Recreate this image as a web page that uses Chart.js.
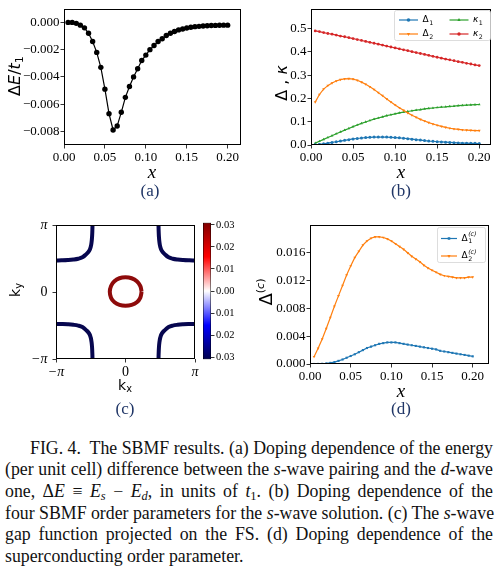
<!DOCTYPE html>
<html>
<head>
<meta charset="utf-8">
<script src="https://cdn.jsdelivr.net/npm/chart.js@4.4.0/dist/chart.umd.min.js"></script>
<style>
  html, body { margin: 0; padding: 0; background: #fff; }
  #page { position: relative; width: 499px; height: 572px; overflow: hidden; }
  canvas { position: absolute; }
  .lbl { position: absolute; white-space: nowrap; color: #000; transform: translate(-50%, -50%); line-height: 1; }
  .rot { transform: translate(-50%, -50%) rotate(-90deg); }
  .serif { font-family: 'Liberation Serif', 'Times New Roman', serif; }
  .sans { font-family: 'DejaVu Sans', sans-serif; }
  .panel { font-family: 'Liberation Serif', 'Times New Roman', serif; font-size: 17px; color: #1f3566; }
  .lbl sub, .caption sub { font-size: 0.7em; vertical-align: -0.25em; line-height: 0; }
  .lbl sup { font-size: 0.62em; vertical-align: 0.7em; line-height: 0; }
  .caption { position: absolute; left: 5px; top: 437.5px; width: 488px;
             font-family: 'Liberation Serif', 'Times New Roman', serif; font-size: 17.8px; line-height: 21.7px; color: #111; }
  .caption div { height: 21.7px; white-space: nowrap; text-align: justify; text-align-last: justify; }
  .caption div.first { padding-left: 25px; }
  .caption div.last { text-align-last: left; }
</style>
</head>
<body>
<div id="page">
  <canvas id="chartA" width="250" height="165" style="left:0px;top:0px;"></canvas>
  <canvas id="chartB" width="249" height="165" style="left:250px;top:0px;"></canvas>
  <canvas id="chartC" width="200" height="170" style="left:0px;top:212px;"></canvas>
  <canvas id="chartCB" width="50" height="160" style="left:195px;top:212px;"></canvas>
  <canvas id="chartD" width="249" height="170" style="left:250px;top:215px;"></canvas>

  <div class="lbl rot sans" style="left:15px;top:76px;font-size:16px;">Δ<i>E</i>/<i>t</i><sub>1</sub></div>
  <div class="lbl serif" style="left:152px;top:171px;font-size:19px;"><i>x</i></div>
  <div class="lbl panel" style="left:150px;top:190px;">(a)</div>

  <div class="lbl rot sans" style="left:282px;top:83px;font-size:16px;">Δ , <i>κ</i></div>
  <div class="lbl serif" style="left:401px;top:171px;font-size:19px;"><i>x</i></div>
  <div class="lbl panel" style="left:401px;top:190px;">(b)</div>

  <div class="lbl rot sans" style="left:15px;top:290px;font-size:14px;">k<sub>y</sub></div>
  <div class="lbl sans" style="left:125px;top:385px;font-size:14px;">k<sub>x</sub></div>
  <div class="lbl panel" style="left:125px;top:408px;">(c)</div>

  <div class="lbl rot sans" style="left:266px;top:292px;font-size:18px;">Δ<sup>(<i>c</i>)</sup></div>
  <div class="lbl serif" style="left:401px;top:390px;font-size:19px;"><i>x</i></div>
  <div class="lbl panel" style="left:401px;top:408px;">(d)</div>

  <div class="caption">
    <div class="first">FIG. 4.&nbsp; The SBMF results. (a) Doping dependence of the energy</div>
    <div>(per unit cell) difference between the <i>s</i>-wave pairing and the <i>d</i>-wave</div>
    <div>one, Δ<i>E</i> ≡ <i>E<sub>s</sub></i> − <i>E<sub>d</sub></i>, in units of <i>t</i><sub>1</sub>. (b) Doping dependence of the</div>
    <div>four SBMF order parameters for the <i>s</i>-wave solution. (c) The <i>s</i>-wave</div>
    <div>gap function projected on the FS. (d) Doping dependence of the</div>
    <div class="last">superconducting order parameter.</div>
  </div>
</div>

<script>
// doping grid shared by panels (a), (b), (d)
const xDoping = [0.005, 0.010, 0.015, 0.020, 0.025, 0.030, 0.035, 0.040, 0.045, 0.050,
                 0.055, 0.060, 0.065, 0.070, 0.075, 0.080, 0.085, 0.090, 0.095, 0.100,
                 0.105, 0.110, 0.115, 0.120, 0.125, 0.130, 0.135, 0.140, 0.145, 0.150,
                 0.155, 0.160, 0.165, 0.170, 0.175, 0.180, 0.185, 0.190, 0.195, 0.200];

// (a) energy difference
const deltaE = [0.0000, 0.0000, -0.00007, -0.0002, -0.0004, -0.0008, -0.0014, -0.0022, -0.0033, -0.0049,
                -0.0067, -0.0079, -0.0076, -0.0066, -0.0055, -0.0047, -0.0040, -0.0034, -0.0028, -0.0024,
                -0.0020, -0.0017, -0.0014, -0.0012, -0.00096, -0.0008, -0.00067, -0.00055, -0.00048, -0.00041,
                -0.00036, -0.00031, -0.00029, -0.00026, -0.00024, -0.00023, -0.00022, -0.00021, -0.0002, -0.0002];

// (b) order parameters
const delta1 = [0.001, 0.003, 0.005, 0.008, 0.011, 0.014, 0.017, 0.020, 0.023, 0.026,
                0.028, 0.030, 0.032, 0.033, 0.034, 0.034, 0.034, 0.034, 0.033, 0.032,
                0.031, 0.029, 0.027, 0.025, 0.023, 0.021, 0.019, 0.017, 0.016, 0.014,
                0.013, 0.012, 0.011, 0.010, 0.009, 0.008, 0.008, 0.007, 0.007, 0.006];
const delta2 = [0.184, 0.217, 0.240, 0.255, 0.266, 0.275, 0.281, 0.284, 0.285, 0.283,
                0.278, 0.270, 0.261, 0.250, 0.238, 0.225, 0.212, 0.198, 0.185, 0.172,
                0.160, 0.149, 0.138, 0.128, 0.119, 0.110, 0.103, 0.096, 0.090, 0.085,
                0.080, 0.076, 0.072, 0.069, 0.067, 0.065, 0.064, 0.063, 0.062, 0.062];
const kappa1 = [0.008, 0.016, 0.024, 0.032, 0.040, 0.048, 0.056, 0.064, 0.071, 0.079,
                0.086, 0.093, 0.099, 0.105, 0.111, 0.116, 0.121, 0.126, 0.130, 0.134,
                0.138, 0.141, 0.144, 0.147, 0.150, 0.152, 0.155, 0.157, 0.159, 0.161,
                0.163, 0.164, 0.166, 0.167, 0.169, 0.170, 0.171, 0.172, 0.173, 0.174];
const kappa2 = [0.490, 0.487, 0.483, 0.479, 0.476, 0.472, 0.468, 0.465, 0.461, 0.457,
                0.453, 0.449, 0.445, 0.441, 0.437, 0.433, 0.429, 0.425, 0.421, 0.417,
                0.413, 0.409, 0.405, 0.401, 0.397, 0.393, 0.389, 0.385, 0.381, 0.377,
                0.373, 0.369, 0.366, 0.362, 0.358, 0.355, 0.351, 0.348, 0.344, 0.341];

// (d) superconducting order parameters
const deltaC1 = [0.0, 0.00001, 0.00003, 0.00008, 0.00016, 0.00028, 0.00045, 0.00065, 0.0009, 0.00115,
                 0.0014, 0.0017, 0.0020, 0.0023, 0.0025, 0.0027, 0.0029, 0.0030, 0.0031, 0.0031,
                 0.0031, 0.0030, 0.0029, 0.0028, 0.0027, 0.0026, 0.0025, 0.0024, 0.0023, 0.0022,
                 0.0021, 0.0019, 0.0018, 0.0017, 0.0016, 0.0015, 0.0014, 0.0013, 0.0012, 0.0011];
const deltaC2 = [0.00105, 0.00225, 0.0036, 0.0051, 0.0067, 0.0083, 0.0098, 0.0113, 0.0128, 0.0141,
                 0.0153, 0.0162, 0.0171, 0.0177, 0.0181, 0.0183, 0.0183, 0.0182, 0.0180, 0.0177,
                 0.0173, 0.0169, 0.0165, 0.0160, 0.0155, 0.0151, 0.0147, 0.0142, 0.0138, 0.0135,
                 0.0132, 0.0129, 0.0127, 0.0126, 0.0125, 0.0124, 0.0124, 0.0124, 0.0125, 0.0125];

// (c) Fermi surface in units of pi: pocket around Gamma, and one corner arc (mirrored to the 4 corners)
const fsPocketX = [0.232, 0.212, 0.163, 0.088, 0.0, -0.088, -0.160, -0.208, -0.226, -0.208, -0.158, -0.086, 0.0, 0.088, 0.163, 0.212, 0.232];
const fsPocketY = [0.006, 0.094, 0.165, 0.209, 0.223, 0.209, 0.165, 0.094, 0.006, -0.084, -0.150, -0.190, -0.203, -0.190, -0.150, -0.084, 0.006];
const fsArcX = [0.475, 0.477, 0.481, 0.488, 0.50, 0.522, 0.567, 0.62, 0.68, 0.75, 0.83, 0.92, 1.0];
const fsArcY = [1.0, 0.92, 0.83, 0.75, 0.68, 0.62, 0.567, 0.522, 0.50, 0.488, 0.481, 0.477, 0.475];
const fsCorners = [[1, 1], [-1, 1], [-1, -1], [1, -1]];
const gapPocket = 0.028;
const gapArc = -0.03;

// tick values
const ticksA_x = [0, 0.05, 0.10, 0.15, 0.20];
const ticksA_y = [0, -0.002, -0.004, -0.006, -0.008];
const ticksB_y = [0, 0.1, 0.2, 0.3, 0.4, 0.5];
const ticksD_y = [0, 0.004, 0.008, 0.012, 0.016];
const ticksK = [-1, 0, 1];
const ticksCB = [-0.03, -0.02, -0.01, 0, 0.01, 0.02, 0.03];
const cbMin = -0.031, cbMax = 0.031;

// seismic colormap
const seismic = [[0, '#00004d'], [0.25, '#0000ff'], [0.5, '#ffffff'], [0.75, '#ff0000'], [1, '#800000']];

const tab = { blue: '#1f77b4', orange: '#ff7f0e', green: '#2ca02c', red: '#d62728' };

const serifFamily = "'Liberation Serif', 'Times New Roman', serif";
Chart.defaults.font.family = serifFamily;
Chart.defaults.color = '#000';

function pts(xs, ys) {
  return xs.map((x, i) => ({ x: x, y: ys[i] }));
}

function axis(pos, min, max, tickVals, fmt, size, font, pad) {
  return {
    type: 'linear', position: pos, min: min, max: max,
    afterBuildTicks: s => { s.ticks = tickVals.map(v => ({ value: v })); },
    afterFit: s => { if (pos === 'bottom') s.height = size; else s.width = size; },
    border: { display: false },
    grid: { drawOnChartArea: false, drawTicks: true, tickLength: 3.5, tickWidth: 0.8, tickColor: '#000' },
    ticks: { color: '#000', font: font, padding: pad, autoSkip: false, maxRotation: 0, callback: fmt }
  };
}

const framePlugin = {
  id: 'frame',
  afterDraw(chart) {
    const { ctx, chartArea: a } = chart;
    ctx.save();
    ctx.strokeStyle = '#000';
    ctx.lineWidth = 1;
    ctx.strokeRect(Math.round(a.left) + 0.5, Math.round(a.top) + 0.5,
                   Math.round(a.right - a.left) - 1, Math.round(a.bottom - a.top) - 1);
    ctx.restore();
  }
};

function drawMath(ctx, lab, x, y, size) {
  ctx.textBaseline = 'middle';
  ctx.textAlign = 'left';
  ctx.fillStyle = '#000';
  ctx.font = (lab.italic ? 'italic ' : '') + size + "px 'DejaVu Sans'";
  ctx.fillText(lab.base, x, y);
  const w = ctx.measureText(lab.base).width + 0.5;
  const small = size * 0.7;
  if (lab.sub) {
    ctx.font = small + "px 'DejaVu Sans'";
    ctx.fillText(lab.sub, x + w, y + size * 0.32);
  }
  if (lab.sup) {
    ctx.font = 'italic ' + small + "px 'DejaVu Sans'";
    ctx.fillText(lab.sup, x + w, y - size * 0.42);
  }
}

const boxLegend = {
  id: 'boxLegend',
  afterDraw(chart, args, o) {
    const { ctx, chartArea: a } = chart;
    const x0 = Math.round(a.right - o.right - o.width) + 0.5;
    const y0 = Math.round(a.top + o.top) + 0.5;
    ctx.save();
    ctx.beginPath();
    ctx.roundRect(x0, y0, o.width, o.height, 2);
    ctx.fillStyle = 'rgba(255,255,255,0.85)';
    ctx.fill();
    ctx.strokeStyle = '#d4d4d4';
    ctx.lineWidth = 0.8;
    ctx.stroke();
    o.items.forEach(it => {
      const ds = chart.data.datasets[it.ds];
      const lx = x0 + o.padX + it.col * o.colW;
      const ly = y0 + o.padY + it.row * o.rowH;
      ctx.strokeStyle = ds.borderColor;
      ctx.lineWidth = ds.borderWidth;
      ctx.beginPath();
      ctx.moveTo(lx, ly);
      ctx.lineTo(lx + o.lineLen, ly);
      ctx.stroke();
      ctx.fillStyle = ds.backgroundColor;
      Chart.helpers.drawPoint(ctx, { pointStyle: ds.pointStyle, rotation: ds.pointRotation || 0,
                                     radius: ds.pointRadius + 0.3, borderWidth: 0 }, lx + o.lineLen / 2, ly);
      drawMath(ctx, it.label, lx + o.lineLen + o.gap, ly, o.fontSize);
    });
    ctx.restore();
  }
};

function series(label, ys, color, style, radius, rot) {
  return {
    label: label, data: pts(xDoping, ys), showLine: true,
    borderColor: color, backgroundColor: color, borderWidth: 1.2,
    pointStyle: style, pointRadius: radius, pointRotation: rot || 0,
    pointBorderWidth: 0, pointHoverRadius: radius
  };
}

const common = {
  responsive: false, animation: false, events: [],
  plugins: { legend: { display: false }, tooltip: { enabled: false } }
};

const tickFont = { family: serifFamily, size: 13 };

// (a)
new Chart(document.getElementById('chartA'), {
  type: 'scatter',
  data: { datasets: [series('ΔE', deltaE, '#000', 'circle', 2.7)] },
  options: Object.assign({}, common, {
    layout: { padding: { top: 6, right: 9, left: 0, bottom: 0 } },
    scales: {
      x: axis('bottom', 0, 0.2163, ticksA_x, v => v.toFixed(2), 20, tickFont, 1),
      y: axis('left', -0.009, 0.001, ticksA_y, v => (v < 0 ? '−' : '') + Math.abs(v).toFixed(3), 64, tickFont, 1)
    }
  }),
  plugins: [framePlugin]
});

// (b)
new Chart(document.getElementById('chartB'), {
  type: 'scatter',
  data: {
    datasets: [
      series('Δ1', delta1, tab.blue, 'circle', 1.5),
      series('Δ2', delta2, tab.orange, 'triangle', 1.6, 180),
      series('κ1', kappa1, tab.green, 'triangle', 1.6),
      series('κ2', kappa2, tab.red, 'circle', 1.4)
    ]
  },
  options: Object.assign({}, common, {
    layout: { padding: { top: 6, right: 8, left: 0, bottom: 0 } },
    scales: {
      x: axis('bottom', 0, 0.214, ticksA_x, v => v.toFixed(2), 20, tickFont, 1),
      y: axis('left', 0, 0.585, ticksB_y, v => v.toFixed(1), 61, tickFont, 1)
    },
    plugins: Object.assign({}, common.plugins, {
      boxLegend: {
        right: 1.5, top: 1.5, width: 96, height: 30, padX: 4.5, padY: 9.5, colW: 50.5, rowH: 14,
        lineLen: 19, gap: 4.5, fontSize: 9,
        items: [
          { ds: 0, col: 0, row: 0, label: { base: 'Δ', sub: '1' } },
          { ds: 1, col: 0, row: 1, label: { base: 'Δ', sub: '2' } },
          { ds: 2, col: 1, row: 0, label: { base: 'κ', sub: '1', italic: true } },
          { ds: 3, col: 1, row: 1, label: { base: 'κ', sub: '2', italic: true } }
        ]
      }
    })
  }),
  plugins: [framePlugin, boxLegend]
});

// (c) Fermi surface coloured by the gap
function gapColor(v) {
  return v > 0 ? '#8e0b0b' : '#07074f';
}
const fsSets = [{
  data: pts(fsPocketX, fsPocketY), showLine: true, tension: 0.4, borderWidth: 4,
  borderColor: gapColor(gapPocket), pointRadius: 0, clip: 0
}];
fsCorners.forEach(s => {
  fsSets.push({
    data: pts(fsArcX.map(v => v * s[0]), fsArcY.map(v => v * s[1])), showLine: true, tension: 0.4,
    borderWidth: 4, borderColor: gapColor(gapArc), pointRadius: 0, clip: 0
  });
});
const piLabel = v => (v === 0 ? '0' : (v < 0 ? '−π' : 'π'));
const piFont = c => ({ family: serifFamily, size: 14,
                       style: c.tick && c.tick.value !== 0 ? 'italic' : 'normal' });
new Chart(document.getElementById('chartC'), {
  type: 'scatter',
  data: { datasets: fsSets },
  options: Object.assign({}, common, {
    layout: { padding: { top: 10, right: 5, left: 0, bottom: 0 } },
    scales: {
      x: axis('bottom', -1, 1, ticksK, piLabel, 23, piFont, 1),
      y: axis('left', -1, 1, ticksK, piLabel, 56, piFont, 5)
    }
  }),
  plugins: [framePlugin]
});

// colour bar
new Chart(document.getElementById('chartCB'), {
  type: 'bar',
  data: {
    labels: [''],
    datasets: [{
      data: [[cbMin, cbMax]],
      backgroundColor: c => {
        const a = c.chart.chartArea;
        if (!a) return '#fff';
        const g = c.chart.ctx.createLinearGradient(0, a.bottom, 0, a.top);
        seismic.forEach(s => g.addColorStop(s[0], s[1]));
        return g;
      },
      borderColor: '#000', borderWidth: 0.8, borderSkipped: false,
      barPercentage: 1, categoryPercentage: 1
    }]
  },
  options: Object.assign({}, common, {
    layout: { padding: { top: 10.7, right: 0, left: 8, bottom: 12.7 } },
    scales: {
      x: { display: false },
      y: axis('right', cbMin, cbMax, ticksCB, v => Math.abs(v).toFixed(2), 34,
              { family: serifFamily, size: 10.5 }, 1.5)
    }
  })
});

// (d)
new Chart(document.getElementById('chartD'), {
  type: 'scatter',
  data: {
    datasets: [
      series('Δ1(c)', deltaC1, tab.blue, 'rect', 1.5),
      series('Δ2(c)', deltaC2, tab.orange, 'triangle', 1.6, 180)
    ]
  },
  options: Object.assign({}, common, {
    layout: { padding: { top: 10, right: 10, left: 0, bottom: 0 } },
    scales: {
      x: axis('bottom', 0, 0.22, ticksA_x, v => v.toFixed(2), 21, tickFont, 1),
      y: axis('left', 0, 0.020, ticksD_y, v => v.toFixed(3), 60, tickFont, 1)
    },
    plugins: Object.assign({}, common.plugins, {
      boxLegend: {
        right: 4, top: 1.5, width: 48, height: 35, padX: 3.5, padY: 11, colW: 0, rowH: 17.5,
        lineLen: 16, gap: 4.5, fontSize: 9,
        items: [
          { ds: 0, col: 0, row: 0, label: { base: 'Δ', sub: '1', sup: '(c)' } },
          { ds: 1, col: 0, row: 1, label: { base: 'Δ', sub: '2', sup: '(c)' } }
        ]
      }
    })
  }),
  plugins: [framePlugin, boxLegend]
});
</script>
</body>
</html>
